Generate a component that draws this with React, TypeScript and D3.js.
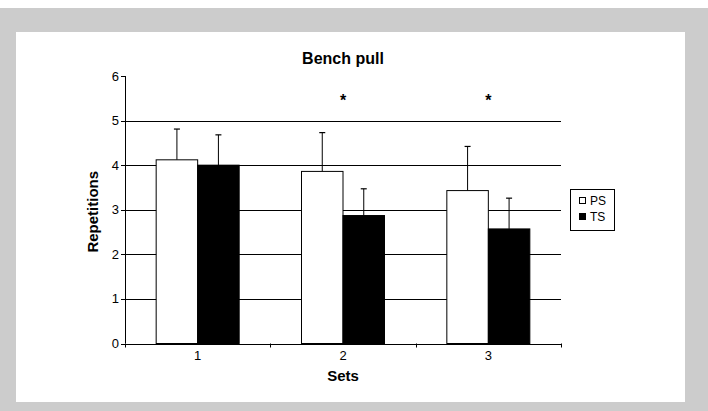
import React from "react";
import * as d3 from "d3";

const sets = ["1", "2", "3"];
const seriesNames = ["PS", "TS"];
const psMeans = [4.12, 3.86, 3.43];
const psSD = [0.69, 0.87, 0.99];
const tsMeans = [4.0, 2.87, 2.57];
const tsSD = [0.68, 0.6, 0.69];
const significant = [false, true, true];
const yTicks = [0, 1, 2, 3, 4, 5, 6];
const gridValues = [1, 2, 3, 4, 5];

const W = 708;
const H = 411;
const plot = { left: 125, right: 561, top: 76, bottom: 343.5 };

export default function App() {
  const x = d3.scaleBand<string>().domain(sets).range([plot.left, plot.right]).paddingInner(0).paddingOuter(0);
  const y = d3.scaleLinear().domain([0, 6]).range([plot.bottom, plot.top]);
  const barW = 41.5;
  const series = [
    { name: seriesNames[0], means: psMeans, sd: psSD, fill: "#ffffff" },
    { name: seriesNames[1], means: tsMeans, sd: tsSD, fill: "#000000" },
  ];
  const font = "'Liberation Sans', Arial, sans-serif";
  const bw = x.bandwidth();
  return (
    <svg width={W} height={H} style={{ position: "absolute", left: 0, top: 0, display: "block" }} fontFamily={font}>
      <rect x={0} y={0} width={W} height={H} fill="#ffffff" />
      <rect x={0} y={8} width={W} height={H - 8} fill="#cccccc" />
      <rect x={16} y={32} width={669} height={370} fill="#ffffff" />
      {/* title */}
      <text x={343} y={64} textAnchor="middle" fontSize={16} fontWeight="bold">Bench pull</text>
      {/* gridlines */}
      {gridValues.map((v) => (
        <line key={v} x1={plot.left} x2={plot.right} y1={Math.round(y(v)) + 0.5} y2={Math.round(y(v)) + 0.5} stroke="#000" strokeWidth={1} />
      ))}
      {/* bars */}
      {sets.map((s, i) => {
        const cx = (x(s) as number) + bw / 2;
        return series.map((ser, j) => {
          const x0 = cx - barW + j * barW;
          const top = y(ser.means[i]);
          const errTop = y(ser.means[i] + ser.sd[i]);
          const ex = x0 + barW / 2;
          return (
            <g key={s + ser.name}>
              <line x1={ex} x2={ex} y1={top} y2={errTop} stroke="#000" strokeWidth={1} />
              <line x1={ex - 3} x2={ex + 3} y1={errTop} y2={errTop} stroke="#000" strokeWidth={1.2} />
              <rect x={x0} y={top} width={barW} height={plot.bottom - top} fill={ser.fill} stroke="#000" strokeWidth={1} />
            </g>
          );
        });
      })}
      {/* significance */}
      {sets.map((s, i) =>
        significant[i] ? (
          <text key={"sig" + s} x={(x(s) as number) + bw / 2} y={106} textAnchor="middle" fontSize={16} fontWeight="bold">*</text>
        ) : null
      )}
      {/* y axis */}
      <line x1={plot.left + 0.5} x2={plot.left + 0.5} y1={plot.top} y2={plot.bottom} stroke="#000" />
      {yTicks.map((v) => (
        <g key={"yt" + v}>
          <line x1={plot.left - 4} x2={plot.left} y1={Math.round(y(v)) + 0.5} y2={Math.round(y(v)) + 0.5} stroke="#000" />
          <text x={plot.left - 6} y={y(v) + 4.5} textAnchor="end" fontSize={13}>{v}</text>
        </g>
      ))}
      {/* x axis */}
      <line x1={plot.left} x2={plot.right} y1={Math.round(plot.bottom) + 0.5} y2={Math.round(plot.bottom) + 0.5} stroke="#000" />
      {[...sets.map((s) => x(s) as number), plot.right].map((px, i) => (
        <line key={"xt" + i} x1={Math.round(px) + 0.5} x2={Math.round(px) + 0.5} y1={plot.bottom} y2={plot.bottom + 4} stroke="#000" />
      ))}
      {sets.map((s) => (
        <text key={"xl" + s} x={(x(s) as number) + bw / 2} y={360} textAnchor="middle" fontSize={13}>{s}</text>
      ))}
      <text x={343} y={381} textAnchor="middle" fontSize={15} fontWeight="bold">Sets</text>
      <text transform={`translate(98,${(plot.top + plot.bottom) / 2 + 2}) rotate(-90)`} textAnchor="middle" fontSize={15} fontWeight="bold">Repetitions</text>
      {/* legend */}
      <rect x={570.5} y={189.5} width={44} height={41} fill="#fff" stroke="#000" />
      {series.map((ser, j) => (
        <g key={"lg" + ser.name}>
          <rect x={579.5} y={197.5 + j * 16} width={6} height={6} fill={ser.fill} stroke="#000" />
          <text x={590} y={205 + j * 16} fontSize={12}>{ser.name}</text>
        </g>
      ))}
    </svg>
  );
}
